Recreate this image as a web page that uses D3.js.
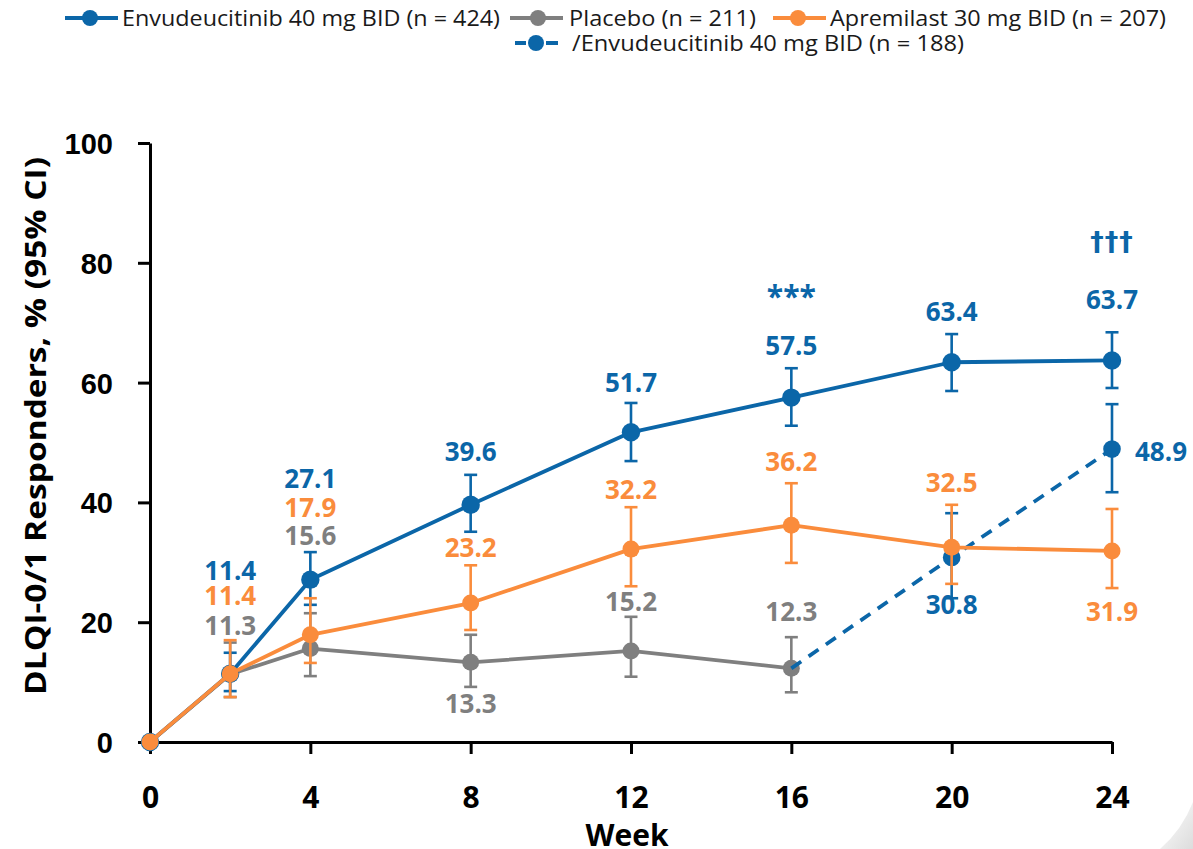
<!DOCTYPE html>
<html><head><meta charset="utf-8">
<script src="https://cdn.jsdelivr.net/npm/d3@7"></script>
<style>body{margin:0;background:#fff;} svg{display:block;}</style>
</head><body><svg id="c" width="1193" height="849"></svg>
<script>
// ---- data ----
const weeks = [0, 2, 4, 8, 12, 16, 20, 24];
const envuValues = [0, 11.4, 27.1, 39.6, 51.7, 57.5, 63.4, 63.7];
const envuLow  = [null, 8.5, 22.9, 35.1, 46.9, 52.8, 58.6, 59.1];
const envuHigh = [null, 14.9, 31.7, 44.6, 56.6, 62.4, 68.1, 68.4];
const placeboWeeks = [0, 2, 4, 8, 12, 16];
const placeboValues = [0, 11.3, 15.6, 13.3, 15.2, 12.3];
const placeboLow  = [null, 7.5, 11.0, 9.2, 10.9, 8.3];
const placeboHigh = [null, 16.6, 21.5, 17.9, 20.9, 17.5];
const apreValues = [0, 11.4, 17.9, 23.2, 32.2, 36.2, 32.5, 31.9];
const apreLow  = [null, 7.5, 13.2, 18.7, 26.0, 29.9, 26.4, 25.7];
const apreHigh = [null, 17.0, 24.0, 29.5, 39.2, 43.2, 39.6, 38.9];
const switchWeeks = [16, 20, 24];
const switchValues = [12.3, 30.8, 48.9];
const switchLow  = [null, 24.0, 41.7];
const switchHigh = [null, 38.2, 56.4];
const xTicks = [0, 4, 8, 12, 16, 20, 24];
const yTicks = [0, 20, 40, 60, 80, 100];
const legendLabels = ["Envudeucitinib 40 mg BID (n = 424)", "Placebo (n = 211)",
  "Apremilast 30 mg BID (n = 207)", "/Envudeucitinib 40 mg BID (n = 188)"];
const yTitle = "DLQI-0/1 Responders, % (95% CI)";
const xTitle = "Week";

// ---- layout (label offsets in px, relative to point) ----
const envuLabelDy = [null, -103, -101, -53, -50, -52, -51, -61];
const apreLabelDy = [null, -78, -127, -55, -59, -63, -65, 61];
const placeboLabelDy = [null, -49, -113, 41, -49, -57];
const switchLabelPos = [null, {dx: 0, dy: 47, anchor: "middle"}, {dx: 23, dy: 3, anchor: "start"}];

const BLUE = "#0B66A8", ORANGE = "#FA8C3C", GRAY = "#7F7F7F";
const svg = d3.select("#c");

const x = d3.scaleLinear().domain([0, 24]).range([150, 1112]);
const y = d3.scaleLinear().domain([0, 100]).range([742, 143]);

// page curl decoration
const curlGrad = svg.append("defs").append("linearGradient").attr("id", "curl")
  .attr("x1", 0).attr("y1", 0).attr("x2", 1).attr("y2", 1);
curlGrad.append("stop").attr("offset", "0%").attr("stop-color", "#ffffff");
curlGrad.append("stop").attr("offset", "100%").attr("stop-color", "#dcdcdc");
svg.append("path").attr("d", "M1193,802 Q1182,830 1160,849 L1193,849 Z").attr("fill", "url(#curl)");

// axes
const yAxis = svg.append("g").attr("transform", "translate(150,0)")
  .call(d3.axisLeft(y).tickValues(yTicks).tickSize(12).tickSizeOuter(0).tickPadding(25));
yAxis.select(".domain").attr("stroke", "#000").attr("stroke-width", 3);
yAxis.selectAll(".tick line").attr("stroke", "#000").attr("stroke-width", 3);
yAxis.selectAll(".tick text").attr("fill", "#000")
  .style("font-family", "'Liberation Sans', Arial, sans-serif").style("font-weight", "bold").style("font-size", "29px")
  .attr("dy", "0.36em");

const xAxis = svg.append("g").attr("transform", "translate(0,742)")
  .call(d3.axisBottom(x).tickValues(xTicks).tickSize(12).tickSizeOuter(0));
xAxis.select(".domain").attr("stroke", "#000").attr("stroke-width", 3);
xAxis.selectAll(".tick line").attr("stroke", "#000").attr("stroke-width", 3);
xAxis.selectAll(".tick text").attr("fill", "#000")
  .style("font-family", "'Open Sans', sans-serif").style("font-weight", "bold").style("font-size", "30px")
  .attr("y", 66).attr("dy", 0);

svg.append("text").attr("x", 627).attr("y", 846).attr("text-anchor", "middle")
  .style("font-family", "'Open Sans', sans-serif").style("font-weight", "bold").style("font-size", "30px")
  .attr("fill", "#000").text(xTitle);

svg.append("text").attr("transform", "translate(46,426) rotate(-90)").attr("text-anchor", "middle")
  .style("font-family", "'Open Sans', sans-serif").style("font-weight", "bold").style("font-size", "29px")
  .attr("fill", "#000").attr("textLength", 538).attr("lengthAdjust", "spacingAndGlyphs").text(yTitle);

// series drawing helper
function drawSeries(wk, vals, lo, hi, color, dashed, r) {
  const g = svg.append("g");
  const pts = wk.map((w, i) => ({w, v: vals[i], lo: lo[i], hi: hi[i]}));
  const line = d3.line().x(d => x(d.w)).y(d => y(d.v));
  g.append("path").datum(pts).attr("d", line).attr("fill", "none").attr("stroke", color)
    .attr("stroke-width", 3.8).attr("stroke-dasharray", dashed ? "12,9" : null).attr("stroke-linejoin", "round");
  const eb = pts.filter(d => d.lo != null);
  eb.forEach(d => {
    g.append("line").attr("x1", x(d.w)).attr("x2", x(d.w)).attr("y1", y(d.lo)).attr("y2", y(d.hi))
      .attr("stroke", color).attr("stroke-width", 2.6);
    [d.lo, d.hi].forEach(v => g.append("line").attr("x1", x(d.w) - 6.5).attr("x2", x(d.w) + 6.5)
      .attr("y1", y(v)).attr("y2", y(v)).attr("stroke", color).attr("stroke-width", 2.6));
  });
  g.selectAll("circle").data(dashed ? pts.slice(1) : pts).enter().append("circle")
    .attr("cx", d => x(d.w)).attr("cy", d => y(d.v)).attr("r", r).attr("fill", color);
}

function drawLabels(wk, vals, color, posFn) {
  wk.forEach((w, i) => {
    const p = posFn(i);
    if (!p) return;
    svg.append("text").attr("x", x(w) + p.dx).attr("y", y(vals[i]) + p.dy + 9.3)
      .attr("text-anchor", p.anchor).attr("fill", color)
      .style("font-family", "'Open Sans', sans-serif").style("font-weight", "bold").style("font-size", "26px")
      .text(vals[i].toFixed(1));
  });
}

drawSeries(placeboWeeks, placeboValues, placeboLow, placeboHigh, GRAY, false, 8.5);
drawSeries(switchWeeks, switchValues, switchLow, switchHigh, BLUE, true, 8.8);
drawSeries(weeks, envuValues, envuLow, envuHigh, BLUE, false, 9.2);
drawSeries(weeks, apreValues, apreLow, apreHigh, ORANGE, false, 8.5);

drawLabels(weeks, envuValues, BLUE, i => envuLabelDy[i] == null ? null : {dx: 0, dy: envuLabelDy[i], anchor: "middle"});
drawLabels(weeks, apreValues, ORANGE, i => apreLabelDy[i] == null ? null : {dx: 0, dy: apreLabelDy[i], anchor: "middle"});
drawLabels(placeboWeeks, placeboValues, GRAY, i => placeboLabelDy[i] == null ? null : {dx: 0, dy: placeboLabelDy[i], anchor: "middle"});
drawLabels(switchWeeks, switchValues, BLUE, i => switchLabelPos[i]);

// significance marks
svg.append("text").attr("x", x(16)).attr("y", 307).attr("text-anchor", "middle").attr("fill", BLUE)
  .style("font-family", "'Open Sans', sans-serif").style("font-weight", "bold").style("font-size", "30px").text("***");
svg.append("text").attr("x", x(24)).attr("y", 251).attr("text-anchor", "middle").attr("fill", BLUE)
  .style("font-family", "'DejaVu Sans', sans-serif").style("font-weight", "bold").style("font-size", "27px")
  .style("letter-spacing", "1px").text("\u2020\u2020\u2020");

// legend
const legendItems = [
  {label: legendLabels[0], color: BLUE, lx: 65, mx: 90, tx: 122, tw: 378, cy: 18, dashed: false},
  {label: legendLabels[1], color: GRAY, lx: 510, mx: 538, tx: 569, tw: 187, cy: 18, dashed: false},
  {label: legendLabels[2], color: ORANGE, lx: 773, mx: 798, tx: 830, tw: 336, cy: 18, dashed: false},
  {label: legendLabels[3], color: BLUE, lx: 515, mx: 536, tx: 572, tw: 392, cy: 43, dashed: true}
];
legendItems.forEach(it => {
  const g = svg.append("g");
  if (it.dashed) {
    g.append("line").attr("x1", it.lx).attr("x2", it.lx + 11).attr("y1", it.cy).attr("y2", it.cy)
      .attr("stroke", it.color).attr("stroke-width", 4);
    g.append("line").attr("x1", it.lx + 31).attr("x2", it.lx + 43).attr("y1", it.cy).attr("y2", it.cy)
      .attr("stroke", it.color).attr("stroke-width", 4);
  } else {
    g.append("line").attr("x1", it.lx).attr("x2", it.lx + 53).attr("y1", it.cy).attr("y2", it.cy)
      .attr("stroke", it.color).attr("stroke-width", 4);
  }
  g.append("circle").attr("cx", it.mx).attr("cy", it.cy).attr("r", 8).attr("fill", it.color);
  g.append("text").attr("x", it.tx).attr("y", it.cy + 7.5).attr("fill", "#1a1a1a")
    .attr("textLength", it.tw).attr("lengthAdjust", "spacingAndGlyphs")
    .style("font-family", "'Open Sans', sans-serif").style("font-size", "21px").text(it.label);
});
</script>
</body></html>
